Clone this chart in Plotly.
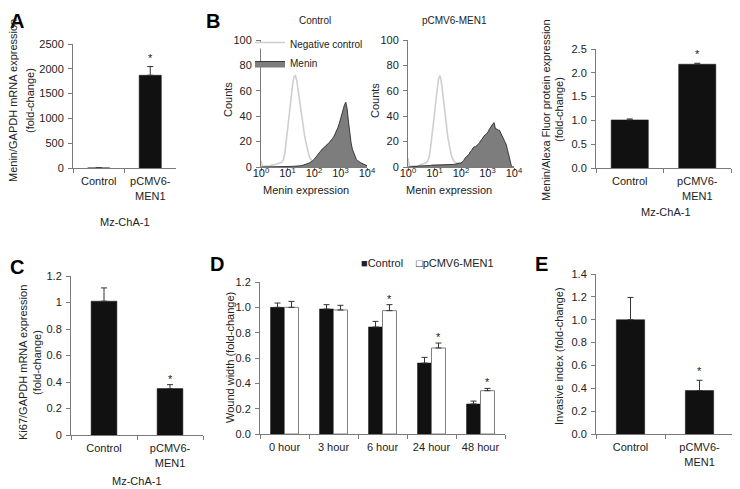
import plotly.graph_objects as go

# The page body adds an 8px margin, so the figure is 8px smaller than the
# 740x489 window and all reference pixel positions are offset by 8px.
OFF = 8
W, H = 740 - OFF, 489 - OFF
FONT = "Liberation Sans, Arial, sans-serif"
AX = "#7a7a7a"
TXT = "#222222"
BAR = "#111111"


def fx(p):
    return (p - OFF) / W


def fy(p):
    return 1 - (p - OFF) / H


# ---------------- data ----------------
groups = ["Control", "pCMV6-<br>MEN1"]

# A: Menin/GAPDH mRNA
a_values = [1, 1870]
a_err = [0, 175]
# B (bar): Menin/Alexa Fluor protein
b_values = [1.01, 2.18]
b_err = [0.02, 0.02]
# C: Ki67/GAPDH mRNA
c_values = [1.01, 0.35]
c_err = [0.10, 0.03]
# D: wound width
d_times = ["0 hour", "3 hour", "6 hour", "24 hour", "48 hour"]
d_control = [1.0, 0.987, 0.845, 0.56, 0.237]
d_control_err = [0.034, 0.034, 0.044, 0.045, 0.023]
d_men1 = [1.0, 0.979, 0.974, 0.679, 0.342]
d_men1_err = [0.047, 0.037, 0.047, 0.039, 0.018]
d_sig = [False, False, True, True, True]
d_series = ["Control", "pCMV6-MEN1"]
# E: invasive index
e_values = [1.0, 0.38]
e_err = [0.195, 0.09]
# significance flags (pCMV6-MEN1 vs Control)
sig_two = [False, True]

# B (histograms): log10 bin centres and counts
bin_log10 = [round(i * 0.05, 2) for i in range(81)]
ctrl_neg = [5, 1, 0.5, 0.5, 0.5, 1, 1, 1, 1.5, 1.5,
            2, 2, 2.5, 2.5, 3, 3.5, 4, 6, 11, 20,
            30, 40, 50, 59, 66, 71, 72, 68, 60, 52,
            45, 38, 30, 24, 19, 14, 10, 7, 5, 4,
            3, 3, 2.5, 2, 2, 1.5, 1, 0.5, 0, 0,
            0, 0, 0, 0, 0, 0, 0, 0, 0, 0,
            0, 0, 0, 0, 0, 0, 0, 0, 0, 0,
            0, 0, 0, 0, 0, 0, 0, 0, 0, 0, 0]
ctrl_men = [0, 0, 0, 0, 0, 0, 0, 0, 0, 0,
            0, 0, 0, 0, 0, 0, 0, 0, 0, 0,
            0.3, 0.3, 0.5, 0.5, 0.5, 0.6, 0.6, 0.8, 0.8, 1,
            1, 1.2, 1.5, 1.5, 2, 2.2, 3, 3.5, 4, 5,
            6, 7, 8.5, 10, 11, 12.5, 14, 14.5, 16, 16.5,
            18, 18.5, 20, 21, 22.5, 24, 26, 28, 31, 34,
            38, 42, 45, 49, 51, 46, 36, 26, 19, 14,
            11, 8, 6, 5, 4, 3.5, 3, 2.5, 2, 1.5, 1]
men1_neg = [7, 1, 0.5, 0.5, 0.5, 0.5, 1, 1, 1, 1.5,
            2, 2.5, 3, 3, 3.5, 5, 8, 15, 23, 32,
            42, 52, 62, 69, 72, 68, 60, 50, 41, 32,
            24, 18, 12, 8, 6, 4, 3.5, 3, 3, 3,
            3, 3.5, 4, 4, 3, 2, 1, 0.5, 0, 0,
            0, 0, 0, 0, 0, 0, 0, 0, 0, 0,
            0, 0, 0, 0, 0, 0, 0, 0, 0, 0,
            0, 0, 0, 0, 0, 0, 0, 0, 0, 0, 0]
men1_men = [0, 0, 0, 0, 0, 0, 0.5, 0.5, 0.8, 0.8,
            1, 1, 1, 1, 1, 1.2, 1.2, 1.2, 1.5, 1.5,
            1.5, 1.5, 1.5, 1.5, 1.5, 1.5, 1.5, 1.5, 1.8, 1.8,
            2, 2, 2, 2, 2, 2.2, 2.5, 2.5, 2.5, 3,
            3, 4, 5, 7, 8, 9, 10, 12, 13, 15,
            16, 16, 17, 18, 19, 21, 22, 24, 25, 26,
            27, 29, 31, 32, 34, 35, 30, 30, 29, 29,
            27, 25, 23, 21, 18, 14, 10, 5, 1, 0, 0]
hist_tickvals = [1, 10, 100, 1000, 10000]
hist_ticktext = ["10<sup>0</sup>", "10<sup>1</sup>", "10<sup>2</sup>",
                 "10<sup>3</sup>", "10<sup>4</sup>"]

# ---------------- figure ----------------
fig = go.Figure()
hist_x = [10 ** v for v in bin_log10]


def err(arr):
    return dict(type="data", array=arr, arrayminus=[0] * len(arr),
                symmetric=False, color="#333333", thickness=1, width=3)


def bar_trace(xcat, vals, e, xa, ya, width):
    return go.Bar(x=xcat, y=vals, error_y=err(e), width=width,
                  marker=dict(color=BAR, line=dict(color=BAR, width=0.5)),
                  xaxis=xa, yaxis=ya, showlegend=False)


fig.add_trace(bar_trace(groups, a_values, a_err, "x", "y", 0.43))

# histograms (negative control drawn first, menin on top)
for xa, ya, neg, men, show in [("x2", "y2", ctrl_neg, ctrl_men, True),
                                ("x3", "y3", men1_neg, men1_men, False)]:
    fig.add_trace(go.Scatter(x=hist_x, y=neg, mode="lines", fill="tozeroy",
                             fillcolor="rgba(255,255,255,1)",
                             line=dict(color="#cfcfcf", width=1.6),
                             name="Negative control", legendrank=1,
                             showlegend=show, xaxis=xa, yaxis=ya))
    fig.add_trace(go.Scatter(x=hist_x, y=men, mode="lines", fill="tozeroy",
                             fillcolor="#7d7d7d",
                             line=dict(color="#1a1a1a", width=0.8),
                             name="Menin", legendrank=2,
                             showlegend=show, xaxis=xa, yaxis=ya))

fig.add_trace(bar_trace(groups, b_values, b_err, "x4", "y4", 0.55))
fig.add_trace(bar_trace(groups, c_values, c_err, "x5", "y5", 0.39))

fig.add_trace(go.Bar(x=d_times, y=d_control, error_y=err(d_control_err),
                     name=d_series[0], marker=dict(color=BAR, line=dict(color=BAR, width=0.5)),
                     xaxis="x6", yaxis="y6", showlegend=False))
fig.add_trace(go.Bar(x=d_times, y=d_men1, error_y=err(d_men1_err),
                     name=d_series[1], marker=dict(color="white", line=dict(color="#808080", width=1)),
                     xaxis="x6", yaxis="y6", showlegend=False))

fig.add_trace(bar_trace(groups, e_values, e_err, "x7", "y7", 0.41))

# ---------------- axes ----------------
tickfont = dict(family=FONT, size=11, color=TXT)
common = dict(showline=True, linecolor=AX, linewidth=1, ticks="outside",
              tickcolor=AX, ticklen=4, tickwidth=1, showgrid=False,
              zeroline=False, tickfont=tickfont, fixedrange=True, automargin=False)


def cat_x(x0, x1, anchor):
    return dict(common, domain=[fx(x0), fx(x1)], anchor=anchor, type="category",
                range=[-0.5, 1.5], tickson="boundaries", ticklabelstandoff=3)


def lin_y(y0px, y1px, anchor, rng, dtick, fmt=""):
    return dict(common, domain=[fy(y0px), fy(y1px)], anchor=anchor,
                range=rng, dtick=dtick, tickformat=fmt, ticklabelstandoff=2)


def hist_x_axis(x0, x1, anchor):
    return dict(common, domain=[fx(x0), fx(x1)], anchor=anchor, type="log",
                range=[0, 4], tickvals=hist_tickvals, ticktext=hist_ticktext,
                ticklen=3, ticklabelstandoff=-7)


fig.update_layout(
    xaxis=cat_x(73, 176, "y"),
    yaxis=lin_y(168, 44, "x", [0, 2500], 500),
    xaxis2=hist_x_axis(261, 367, "y2"),
    yaxis2=lin_y(167, 40, "x2", [0, 100], 20),
    xaxis3=hist_x_axis(408, 514, "y3"),
    yaxis3=lin_y(167, 40, "x3", [0, 100], 20),
    xaxis4=cat_x(596, 731, "y4"),
    yaxis4=lin_y(168, 49, "x4", [0, 2.5], 0.5, ".1f"),
    xaxis5=cat_x(71, 203, "y5"),
    yaxis5=lin_y(435, 276, "x5", [0, 1.2], 0.2),
    xaxis6=dict(common, domain=[fx(260), fx(505)], anchor="y6", type="category",
                range=[-0.5, 4.5], tickson="boundaries", ticklabelstandoff=3),
    yaxis6=lin_y(434, 282, "x6", [0, 1.2], 0.2, ".1f"),
    xaxis7=cat_x(596, 734, "y7"),
    yaxis7=lin_y(434, 274, "x7", [0, 1.4], 0.2, ".1f"),
)

# ---------------- annotations ----------------
ann = []


def text(x, y, s, size=11, angle=0, bold=False, xanchor="center", yanchor="middle", color=TXT):
    ann.append(dict(x=fx(x), y=fy(y), xref="paper", yref="paper", text=("<b>%s</b>" % s) if bold else s,
                    showarrow=False, textangle=angle, xanchor=xanchor, yanchor=yanchor,
                    font=dict(family=FONT, size=size, color=color)))


text(8, 8, "A", size=20, bold=True, color="#000", xanchor="left", yanchor="top")
text(213, 8, "B", size=20, bold=True, color="#000", yanchor="top")
text(8, 267, "C", size=20, bold=True, color="#000", xanchor="left")
text(217, 264, "D", size=20, bold=True, color="#000")
text(541, 264, "E", size=20, bold=True, color="#000")

# y-axis titles
text(13, 101, "Menin/GAPDH mRNA expression", angle=-90)
text(30, 101, "(fold-change)", angle=-90)
text(228, 100, "Counts", angle=-90)
text(375, 100, "Counts", angle=-90)
text(546, 110, "Menin/Alexa Fluor protein expression", angle=-90)
text(559, 110, "(fold-change)", angle=-90)
text(23, 363, "Ki67/GAPDH mRNA expression", angle=-90)
text(37, 363, "(fold-change)", angle=-90)
text(230, 358, "Wound width (fold-change)", angle=-90)
text(559, 356, "Invasive index (fold-change)", angle=-90)

# other titles
text(315, 20, "Control", size=10)
text(455, 20, "pCMV6-MEN1", size=10)
text(306, 190, "Menin expression")
text(449, 190, "Menin expression")
text(125, 222, "Mz-ChA-1")
text(666, 212, "Mz-ChA-1")
text(137, 481, "Mz-ChA-1")

# legend for panel D
text(359, 263, "\u25a0" + d_series[0], xanchor="left")
text(414, 263, "\u25a1" + d_series[1], xanchor="left")


# significance asterisks (from data)
def stars(xa, ya, cats, vals, errs, flags, shift, xshift=0):
    for c, v, e, f in zip(cats, vals, errs, flags):
        if f:
            ann.append(dict(x=c, y=v + e, xref=xa, yref=ya, text="*", showarrow=False,
                            yanchor="bottom", yshift=shift, xshift=xshift,
                            font=dict(family=FONT, size=11, color=TXT)))


stars("x", "y", groups, a_values, a_err, sig_two, 1)
stars("x4", "y4", groups, b_values, b_err, sig_two, 1)
stars("x5", "y5", groups, c_values, c_err, sig_two, -2)
stars("x7", "y7", groups, e_values, e_err, sig_two, 1)
stars("x6", "y6", d_times, d_men1, d_men1_err, d_sig, -2, xshift=7)

fig.update_layout(
    annotations=ann,
    width=W, height=H,
    margin=dict(l=0, r=0, t=0, b=0, autoexpand=False),
    paper_bgcolor="white", plot_bgcolor="white",
    font=dict(family=FONT, size=11, color=TXT),
    barmode="group", bargap=0.43, bargroupgap=0,
    showlegend=True,
    legend=dict(x=fx(250), y=fy(30), xanchor="left", yanchor="top",
                bgcolor="rgba(0,0,0,0)", font=dict(family=FONT, size=10, color=TXT),
                itemwidth=30, tracegroupgap=0),
)

fig.write_html("out.html")
